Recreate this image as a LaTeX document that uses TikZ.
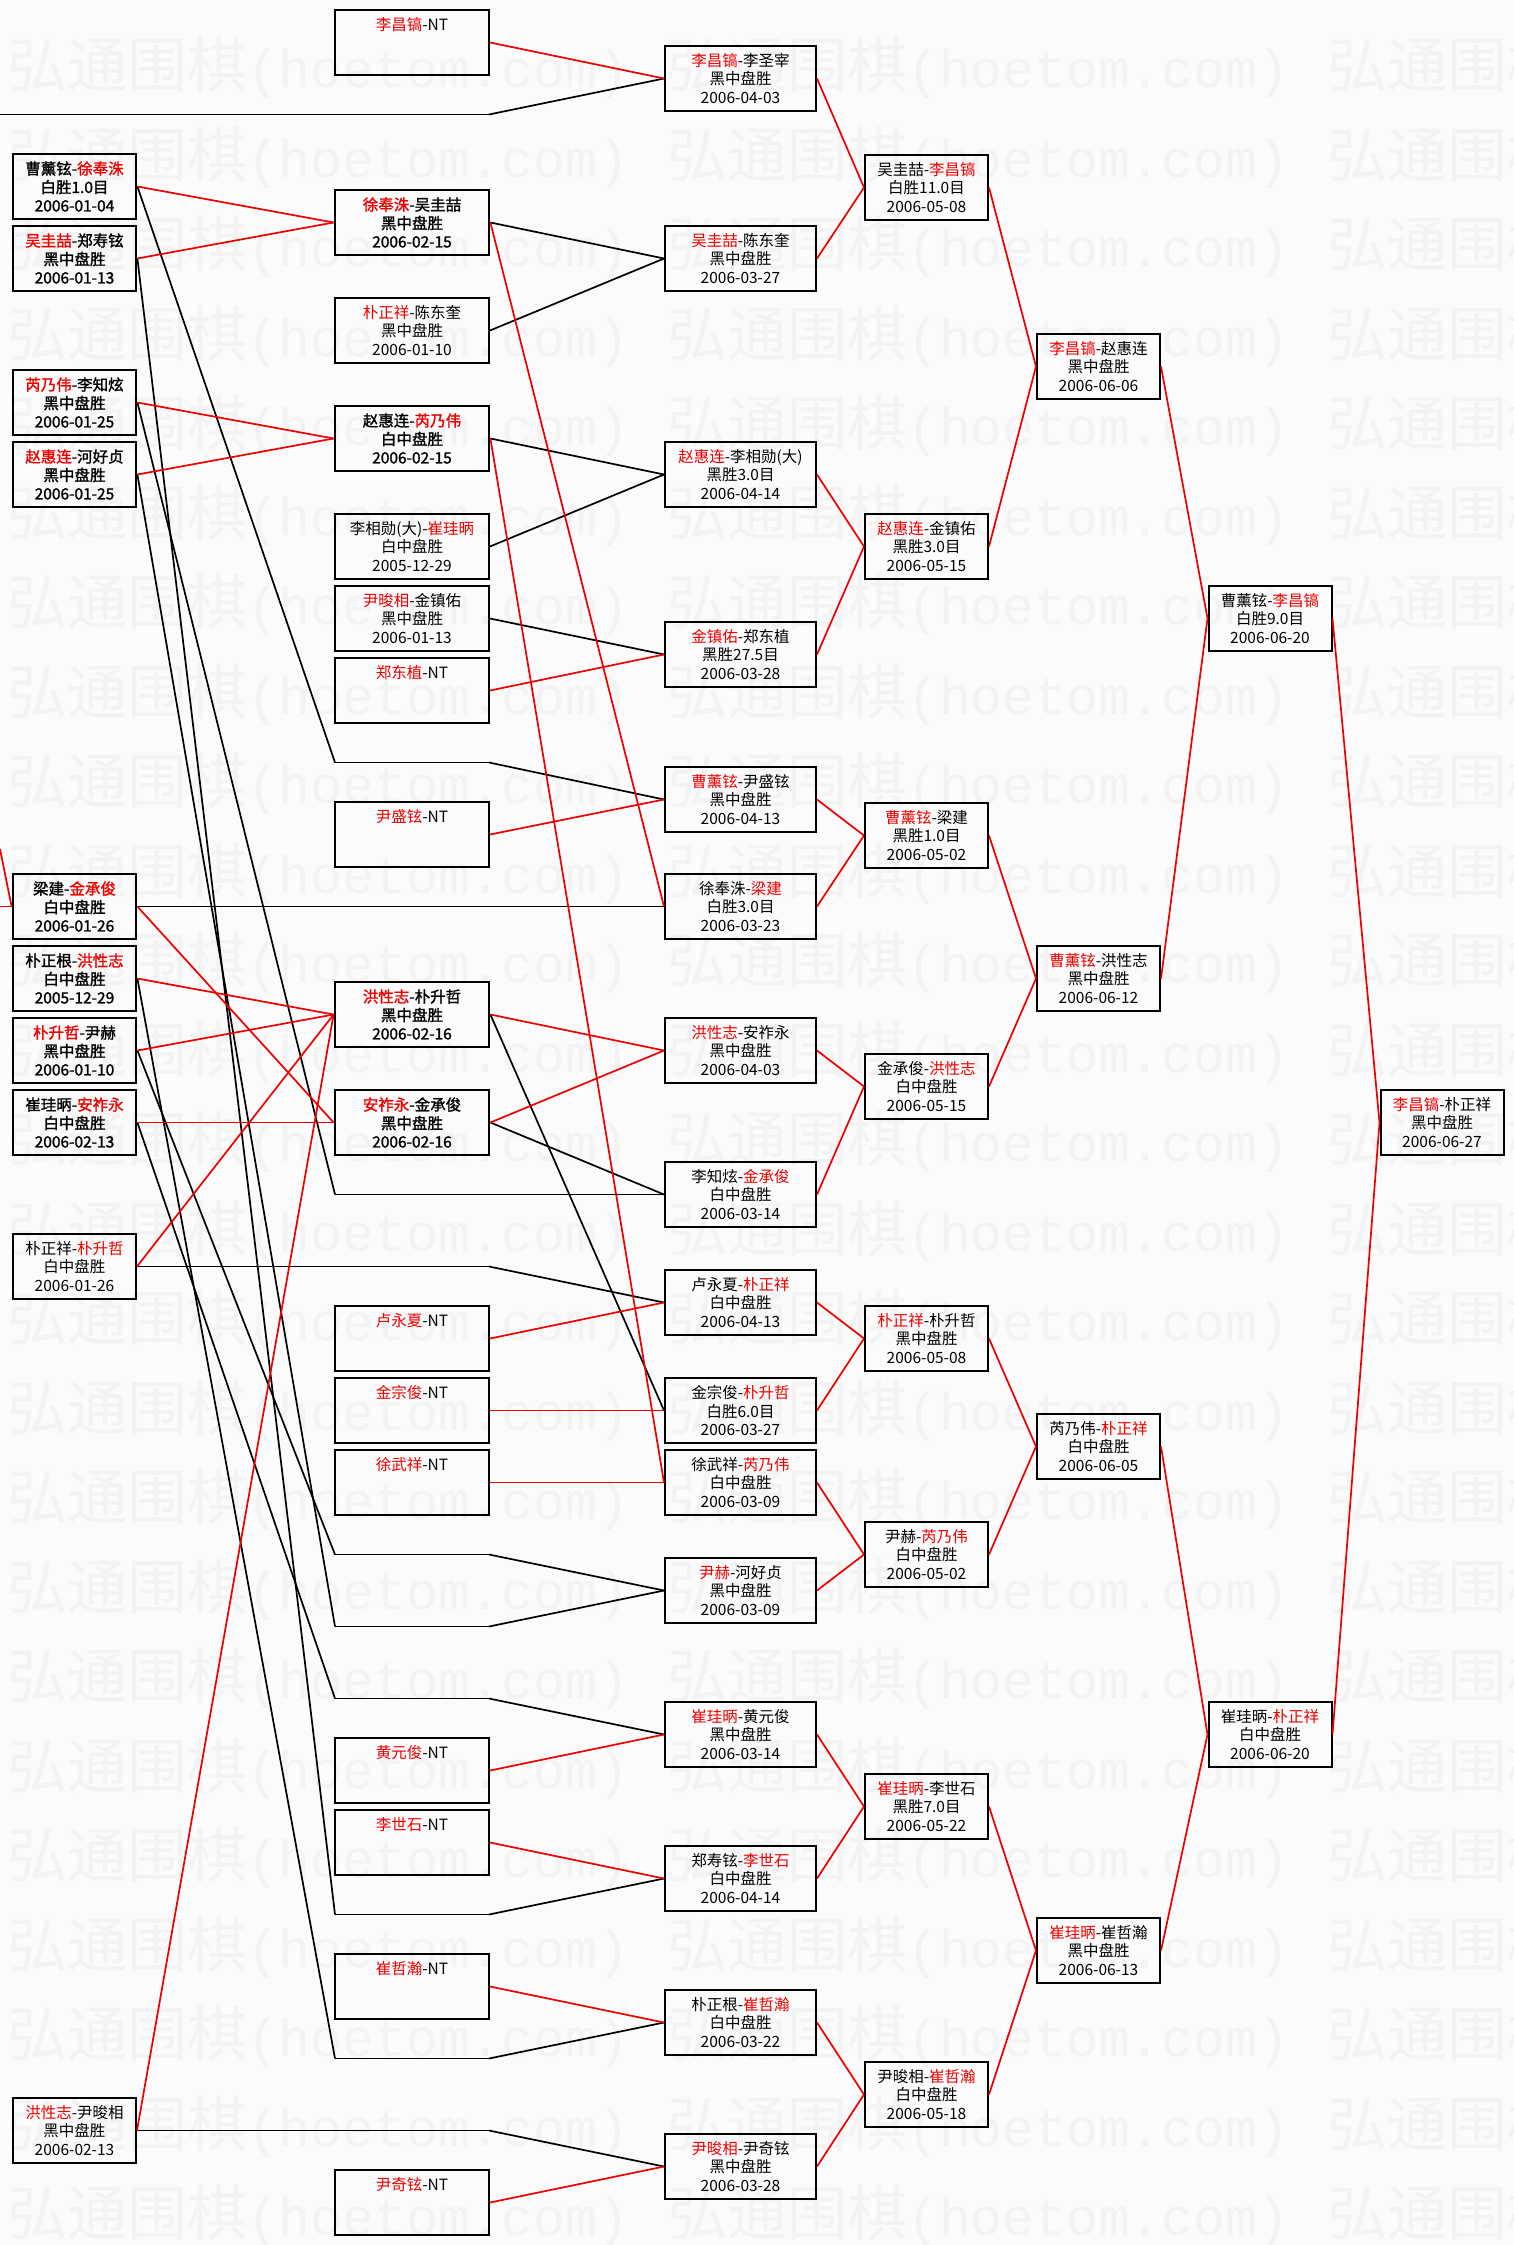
\documentclass[tikz,border=0pt]{standalone}
\usepackage{fontspec}
\setmainfont{Noto Sans CJK SC}
\newfontfamily\cjk{Noto Sans CJK SC}
\newfontfamily\cjkb{Noto Sans CJK SC}[FakeBold=1.4]
\newfontfamily\wmmono{Liberation Mono}
\definecolor{wred}{RGB}{238,0,0}
\definecolor{wmc}{RGB}{243,243,243}
\definecolor{bgc}{RGB}{251,251,251}
\newcommand{\R}[1]{\textcolor{wred}{#1}}
\tikzset{
 gbox/.style={draw=black, line width=2pt, minimum height=65pt, inner sep=0pt, align=center, font=\cjk\fontsize{15.5}{18.5}\selectfont},
 strong/.style={line width=2.8pt, font=\cjkb\fontsize{15.5}{18.5}\selectfont},
 colA/.style={gbox, minimum width=123pt},
 colB/.style={gbox, minimum width=154pt},
 colC/.style={gbox, minimum width=151pt},
 colD/.style={gbox, minimum width=123pt},
 win/.style={draw=wred, line width=1.7pt},
 lose/.style={draw=black, line width=1.7pt},
 slotline/.style={draw=black, line width=1.2pt},
 wmark/.style={text=wmc, inner sep=0pt, anchor=west, font=\cjk\fontsize{60}{60}\selectfont}
}
\begin{document}
\begin{tikzpicture}[x=1pt,y=-1pt]
\useasboundingbox (0,0) rectangle (1514,2245);
\fill[bgc] (0,0) rectangle (1514,2245);
% watermark
\begin{scope}
\clip (0,0) rectangle (1514,2245);
\foreach \k in {0,...,24}{
  \foreach \xx in {7,667,1327}{
    \node[wmark] (wm-\k-\xx) at (\xx,68+89.5*\k) {弘通围棋{\wmmono\fontsize{53}{60}\selectfont(hoetom.com)}};
  }
}
\end{scope}

% ---------- column A ----------
\node[colA,strong] (a1) at (74.5,186.5) {曹薰铉-\R{徐奉洙}\\白胜1.0目\\2006-01-04};
\node[colA,strong] (a2) at (74.5,258.5) {\R{吴圭喆}-郑寿铉\\黑中盘胜\\2006-01-13};
\node[colA,strong] (a3) at (74.5,402.5) {\R{芮乃伟}-李知炫\\黑中盘胜\\2006-01-25};
\node[colA,strong] (a4) at (74.5,474.5) {\R{赵惠连}-河好贞\\黑中盘胜\\2006-01-25};
\node[colA,strong] (a5) at (74.5,906.5) {梁建-\R{金承俊}\\白中盘胜\\2006-01-26};
\node[colA,strong] (a6) at (74.5,978.5) {朴正根-\R{洪性志}\\白中盘胜\\2005-12-29};
\node[colA,strong] (a7) at (74.5,1050.5) {\R{朴升哲}-尹赫\\黑中盘胜\\2006-01-10};
\node[colA,strong] (a8) at (74.5,1122.5) {崔珪昞-\R{安祚永}\\白中盘胜\\2006-02-13};
\node[colA] (a9) at (74.5,1266.5) {朴正祥-\R{朴升哲}\\白中盘胜\\2006-01-26};
\node[colA] (a10) at (74.5,2130.5) {\R{洪性志}-尹晙相\\黑中盘胜\\2006-02-13};

% ---------- column B ----------
\node[colB] (b1) at (412,42.5) {\R{李昌镐}-NT\\~\\~};
\node[colB,strong] (b2) at (412,222.5) {\R{徐奉洙}-吴圭喆\\黑中盘胜\\2006-02-15};
\node[colB] (b3) at (412,330.5) {\R{朴正祥}-陈东奎\\黑中盘胜\\2006-01-10};
\node[colB,strong] (b4) at (412,438.5) {赵惠连-\R{芮乃伟}\\白中盘胜\\2006-02-15};
\node[colB] (b5) at (412,546.5) {李相勋(大)-\R{崔珪昞}\\白中盘胜\\2005-12-29};
\node[colB] (b6) at (412,618.5) {\R{尹晙相}-金镇佑\\黑中盘胜\\2006-01-13};
\node[colB] (b7) at (412,690.5) {\R{郑东植}-NT\\~\\~};
\node[colB] (b8) at (412,834.5) {\R{尹盛铉}-NT\\~\\~};
\node[colB,strong] (b9) at (412,1014.5) {\R{洪性志}-朴升哲\\黑中盘胜\\2006-02-16};
\node[colB,strong] (b10) at (412,1122.5) {\R{安祚永}-金承俊\\黑中盘胜\\2006-02-16};
\node[colB] (b11) at (412,1338.5) {\R{卢永夏}-NT\\~\\~};
\node[colB] (b12) at (412,1410.5) {\R{金宗俊}-NT\\~\\~};
\node[colB] (b13) at (412,1482.5) {\R{徐武祥}-NT\\~\\~};
\node[colB] (b14) at (412,1770.5) {\R{黄元俊}-NT\\~\\~};
\node[colB] (b15) at (412,1842.5) {\R{李世石}-NT\\~\\~};
\node[colB] (b16) at (412,1986.5) {\R{崔哲瀚}-NT\\~\\~};
\node[colB] (b17) at (412,2202.5) {\R{尹奇铉}-NT\\~\\~};

% slot coordinates in column B (pass-through lines)
\foreach \s/\n in {114.5/114,762.5/762,906.5/906,1194.5/1194,1266.5/1266,1554.5/1554,1626.5/1626,1698.5/1698,1914.5/1914,2058.5/2058,2130.5/2130}{
  \coordinate (sL\n) at (335,\s);
  \coordinate (sR\n) at (489,\s);
  \draw[slotline] (sL\n) -- (sR\n);
}
\coordinate (edgeA) at (0,114.5);
\coordinate (edgeB) at (0,849);
\coordinate (edgeC) at (0,906.5);

% ---------- column C ----------
\node[colC] (c1) at (740.5,78.5) {\R{李昌镐}-李圣宰\\黑中盘胜\\2006-04-03};
\node[colC] (c2) at (740.5,258.5) {\R{吴圭喆}-陈东奎\\黑中盘胜\\2006-03-27};
\node[colC] (c3) at (740.5,474.5) {\R{赵惠连}-李相勋(大)\\黑胜3.0目\\2006-04-14};
\node[colC] (c4) at (740.5,654.5) {\R{金镇佑}-郑东植\\黑胜27.5目\\2006-03-28};
\node[colC] (c5) at (740.5,799.5) {\R{曹薰铉}-尹盛铉\\黑中盘胜\\2006-04-13};
\node[colC] (c6) at (740.5,906.5) {徐奉洙-\R{梁建}\\白胜3.0目\\2006-03-23};
\node[colC] (c7) at (740.5,1050.5) {\R{洪性志}-安祚永\\黑中盘胜\\2006-04-03};
\node[colC] (c8) at (740.5,1194.5) {李知炫-\R{金承俊}\\白中盘胜\\2006-03-14};
\node[colC] (c9) at (740.5,1302.5) {卢永夏-\R{朴正祥}\\白中盘胜\\2006-04-13};
\node[colC] (c10) at (740.5,1410.5) {金宗俊-\R{朴升哲}\\白胜6.0目\\2006-03-27};
\node[colC] (c11) at (740.5,1482.5) {徐武祥-\R{芮乃伟}\\白中盘胜\\2006-03-09};
\node[colC] (c12) at (740.5,1590.5) {\R{尹赫}-河好贞\\黑中盘胜\\2006-03-09};
\node[colC] (c13) at (740.5,1734.5) {\R{崔珪昞}-黄元俊\\黑中盘胜\\2006-03-14};
\node[colC] (c14) at (740.5,1878.5) {郑寿铉-\R{李世石}\\白中盘胜\\2006-04-14};
\node[colC] (c15) at (740.5,2022.5) {朴正根-\R{崔哲瀚}\\白中盘胜\\2006-03-22};
\node[colC] (c16) at (740.5,2166.5) {\R{尹晙相}-尹奇铉\\黑中盘胜\\2006-03-28};

% ---------- column D ----------
\node[colD] (d1) at (926.5,187.5) {吴圭喆-\R{李昌镐}\\白胜11.0目\\2006-05-08};
\node[colD] (d2) at (926.5,546.5) {\R{赵惠连}-金镇佑\\黑胜3.0目\\2006-05-15};
\node[colD] (d3) at (926.5,835.5) {\R{曹薰铉}-梁建\\黑胜1.0目\\2006-05-02};
\node[colD] (d4) at (926.5,1086.5) {金承俊-\R{洪性志}\\白中盘胜\\2006-05-15};
\node[colD] (d5) at (926.5,1338.5) {\R{朴正祥}-朴升哲\\黑中盘胜\\2006-05-08};
\node[colD] (d6) at (926.5,1554.5) {尹赫-\R{芮乃伟}\\白中盘胜\\2006-05-02};
\node[colD] (d7) at (926.5,1806.5) {\R{崔珪昞}-李世石\\黑胜7.0目\\2006-05-22};
\node[colD] (d8) at (926.5,2094.5) {尹晙相-\R{崔哲瀚}\\白中盘胜\\2006-05-18};

% ---------- column E ----------
\node[colD] (e1) at (1098.5,366.5) {\R{李昌镐}-赵惠连\\黑中盘胜\\2006-06-06};
\node[colD] (e2) at (1098.5,978.5) {\R{曹薰铉}-洪性志\\黑中盘胜\\2006-06-12};
\node[colD] (e3) at (1098.5,1446.5) {芮乃伟-\R{朴正祥}\\白中盘胜\\2006-06-05};
\node[colD] (e4) at (1098.5,1950.5) {\R{崔珪昞}-崔哲瀚\\黑中盘胜\\2006-06-13};

% ---------- column F, G ----------
\node[colD] (f1) at (1270,618.5) {曹薰铉-\R{李昌镐}\\白胜9.0目\\2006-06-20};
\node[colD] (f2) at (1270,1734.5) {崔珪昞-\R{朴正祥}\\白中盘胜\\2006-06-20};
\node[colD] (g) at (1442,1122.5) {\R{李昌镐}-朴正祥\\黑中盘胜\\2006-06-27};

% ---------- connectors A -> B ----------
\draw[win] (edgeB) -- (a5.west);
\draw[win] (edgeC) -- (a5.west);
\draw[lose] (edgeA) -- (sL114);
\draw[lose] (a1.east) -- (sL762);
\draw[lose] (a5.east) -- (sL906);
\draw[lose] (a3.east) -- (sL1194);
\draw[lose] (a9.east) -- (sL1266);
\draw[lose] (a7.east) -- (sL1554);
\draw[lose] (a4.east) -- (sL1626);
\draw[lose] (a8.east) -- (sL1698);
\draw[lose] (a2.east) -- (sL1914);
\draw[lose] (a6.east) -- (sL2058);
\draw[lose] (a10.east) -- (sL2130);
\draw[win] (a1.east) -- (b2.west);
\draw[win] (a2.east) -- (b2.west);
\draw[win] (a3.east) -- (b4.west);
\draw[win] (a4.east) -- (b4.west);
\draw[win] (a5.east) -- (b10.west);
\draw[win] (a8.east) -- (b10.west);
\draw[win] (a6.east) -- (b9.west);
\draw[win] (a7.east) -- (b9.west);
\draw[win] (a9.east) -- (b9.west);
\draw[win] (a10.east) -- (b9.west);

% ---------- connectors B -> C ----------
\draw[lose] (sR114) -- (c1.west);
\draw[lose] (sR762) -- (c5.west);
\draw[lose] (sR906) -- (c6.west);
\draw[lose] (sR1194) -- (c8.west);
\draw[lose] (sR1266) -- (c9.west);
\draw[lose] (sR1554) -- (c12.west);
\draw[lose] (sR1626) -- (c12.west);
\draw[lose] (sR1698) -- (c13.west);
\draw[lose] (sR1914) -- (c14.west);
\draw[lose] (sR2058) -- (c15.west);
\draw[lose] (sR2130) -- (c16.west);
\draw[lose] (b2.east) -- (c2.west);
\draw[lose] (b3.east) -- (c2.west);
\draw[lose] (b4.east) -- (c3.west);
\draw[lose] (b5.east) -- (c3.west);
\draw[lose] (b6.east) -- (c4.west);
\draw[lose] (b9.east) -- (c10.west);
\draw[lose] (b10.east) -- (c8.west);
\draw[win] (b1.east) -- (c1.west);
\draw[win] (b2.east) -- (c6.west);
\draw[win] (b4.east) -- (c11.west);
\draw[win] (b7.east) -- (c4.west);
\draw[win] (b8.east) -- (c5.west);
\draw[win] (b9.east) -- (c7.west);
\draw[win] (b10.east) -- (c7.west);
\draw[win] (b11.east) -- (c9.west);
\draw[win] (b12.east) -- (c10.west);
\draw[win] (b13.east) -- (c11.west);
\draw[win] (b14.east) -- (c13.west);
\draw[win] (b15.east) -- (c14.west);
\draw[win] (b16.east) -- (c15.west);
\draw[win] (b17.east) -- (c16.west);

% ---------- C -> D -> E -> F -> G ----------
\draw[win] (c1.east) -- (d1.west);  \draw[win] (c2.east) -- (d1.west);
\draw[win] (c3.east) -- (d2.west);  \draw[win] (c4.east) -- (d2.west);
\draw[win] (c5.east) -- (d3.west);  \draw[win] (c6.east) -- (d3.west);
\draw[win] (c7.east) -- (d4.west);  \draw[win] (c8.east) -- (d4.west);
\draw[win] (c9.east) -- (d5.west);  \draw[win] (c10.east) -- (d5.west);
\draw[win] (c11.east) -- (d6.west); \draw[win] (c12.east) -- (d6.west);
\draw[win] (c13.east) -- (d7.west); \draw[win] (c14.east) -- (d7.west);
\draw[win] (c15.east) -- (d8.west); \draw[win] (c16.east) -- (d8.west);
\draw[win] (d1.east) -- (e1.west);  \draw[win] (d2.east) -- (e1.west);
\draw[win] (d3.east) -- (e2.west);  \draw[win] (d4.east) -- (e2.west);
\draw[win] (d5.east) -- (e3.west);  \draw[win] (d6.east) -- (e3.west);
\draw[win] (d7.east) -- (e4.west);  \draw[win] (d8.east) -- (e4.west);
\draw[win] (e1.east) -- (f1.west);  \draw[win] (e2.east) -- (f1.west);
\draw[win] (e3.east) -- (f2.west);  \draw[win] (e4.east) -- (f2.west);
\draw[win] (f1.east) -- (g.west);   \draw[win] (f2.east) -- (g.west);
\end{tikzpicture}
\end{document}
